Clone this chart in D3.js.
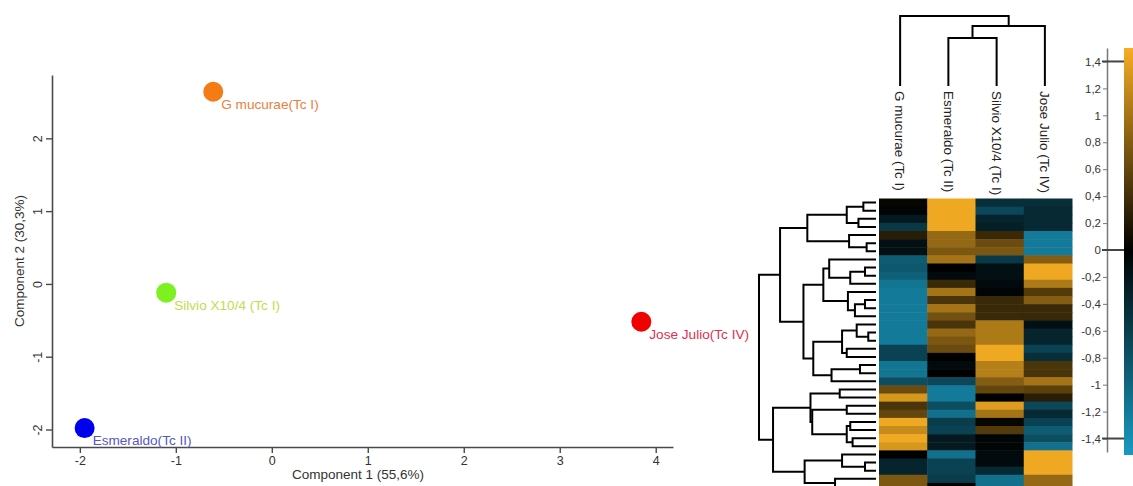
<!DOCTYPE html>
<html><head><meta charset="utf-8">
<script src="https://cdn.jsdelivr.net/npm/d3@7"></script>
<style>
body{margin:0;background:#fff;}
svg{display:block;font-family:"Liberation Sans",Arial,sans-serif;}
</style></head><body>
<svg id="chart" width="1133" height="486"></svg>
<script>
// ---------------- PCA data ----------------
const pcaSamples = ["G mucurae(Tc I)", "Silvio X10/4 (Tc I)", "Esmeraldo(Tc II)", "Jose Julio(Tc IV)"];
const pc1 = [-0.61, -1.10, -1.95, 3.85];
const pc2 = [2.64, -0.12, -1.98, -0.52];
const pcaXTicks = [-2, -1, 0, 1, 2, 3, 4];
const pcaYTicks = [-2, -1, 0, 1, 2];
const pcaXTitle = "Component 1 (55,6%)";
const pcaYTitle = "Component 2 (30,3%)";

// ---------------- Heatmap data ----------------
const heatColumns = ["G mucurae (Tc I)", "Esmeraldo (Tc II)", "Silvio X10/4 (Tc I)", "Jose Julio (Tc IV)"];
// column linkage: [childA, childB, height]  (leaves 0..3, clusters 4..)
const colMerges = [[1, 2, 0.686], [4, 3, 0.857], [0, 5, 1.0]];
// rows in dendrogram order: [G mucurae, Esmeraldo, Silvio, Jose Julio]
const heatRows = [
  [0.05, 1.45, -0.45, -0.45],
  [-0.05, 1.45, -0.70, -0.40],
  [-0.25, 1.45, -0.35, -0.40],
  [-0.55, 1.45, -0.30, -0.40],
  [0.25, 0.90, 0.35, -1.20],
  [-0.15, 0.90, 0.65, -1.20],
  [-0.15, 0.75, 0.75, -1.20],
  [-0.90, 1.00, -0.55, 0.80],
  [-0.85, 0.00, -0.15, 1.45],
  [-0.95, -0.10, -0.15, 1.45],
  [-1.15, 0.35, -0.10, 1.05],
  [-1.20, 1.00, -0.05, 0.50],
  [-1.20, 0.45, 0.35, 0.80],
  [-1.20, 1.00, 0.35, 0.35],
  [-1.20, 0.70, 0.35, 0.35],
  [-1.20, 0.45, 1.05, -0.15],
  [-1.20, 0.90, 1.05, -0.35],
  [-1.20, 0.75, 1.05, -0.35],
  [-0.65, 0.65, 1.45, -0.65],
  [-0.65, 0.00, 1.45, -0.45],
  [-1.15, -0.10, 1.10, 0.45],
  [-1.15, 0.00, 1.10, 0.45],
  [-0.75, -0.70, 0.80, 1.00],
  [0.65, -1.20, 0.60, 0.55],
  [1.30, -1.20, 0.00, 0.25],
  [0.45, -0.75, 1.35, -0.70],
  [0.60, -1.10, 1.00, -0.40],
  [1.45, -0.60, 0.05, -0.65],
  [1.20, -0.65, 0.50, -0.90],
  [1.45, -0.25, -0.05, -0.75],
  [1.30, -0.25, -0.05, -1.10],
  [0.00, -1.10, -0.10, 1.45],
  [-0.35, -0.65, -0.10, 1.45],
  [-0.35, -0.65, -0.40, 1.45],
  [0.75, -0.60, -1.10, 0.90],
  [0.75, 0.00, -1.10, 0.90]
];
// row linkage: [childA, childB, height]  (leaves 0..35, clusters 36..)
const rowMerges = [
  [0, 1, 0.108], [2, 3, 0.15], [36, 37, 0.25], [5, 6, 0.08], [4, 39, 0.23], [38, 40, 0.587],
  [8, 9, 0.094], [42, 10, 0.22], [7, 43, 0.40], [12, 13, 0.094], [45, 14, 0.18], [11, 46, 0.24],
  [44, 47, 0.45], [16, 17, 0.066], [15, 49, 0.165], [18, 19, 0.25], [50, 51, 0.29], [20, 21, 0.137],
  [53, 22, 0.38], [52, 54, 0.536], [48, 55, 0.62], [41, 56, 0.82],
  [23, 24, 0.31], [25, 26, 0.25], [27, 28, 0.22], [29, 30, 0.20], [60, 61, 0.25], [59, 62, 0.545],
  [58, 63, 0.56], [32, 33, 0.094], [31, 65, 0.29], [34, 35, 0.35], [66, 67, 0.61], [64, 68, 0.88],
  [57, 69, 1.0]
];
const colorTicks = [1.4, 1.2, 1, 0.8, 0.6, 0.4, 0.2, 0, -0.2, -0.4, -0.6, -0.8, -1, -1.2, -1.4];
const colorMarks = [1.4, 0, -1.4];

// ---------------- styles ----------------
const pointColors = ["#f57b16", "#7cf021", "#0000ee", "#f00000"];
const labelColors = ["#e9803c", "#c6da4e", "#5656c6", "#de3050"];
const axisColor = "#4a4a4a";
const textColor = "#333";
const FONT = "'Liberation Sans',Arial,sans-serif";

const svg = d3.select("#chart");
svg.append("rect").attr("width", 1133).attr("height", 486).attr("fill", "#fff");

// ================= PCA =================
const x = d3.scaleLinear().domain([-2.29, 4.18]).range([52, 673]);
const y = d3.scaleLinear().domain([-2.24, 2.87]).range([447, 75]);

const gx = svg.append("g").attr("transform", "translate(0,447)")
  .call(d3.axisBottom(x).tickValues(pcaXTicks).tickSize(6).tickSizeOuter(0).tickFormat(d => String(d)));
const gy = svg.append("g").attr("transform", "translate(52,0)")
  .call(d3.axisLeft(y).tickValues(pcaYTicks).tickSize(6).tickSizeOuter(0).tickFormat(d => String(d)));
[gx, gy].forEach(g => {
  g.select(".domain").attr("stroke", axisColor).attr("stroke-width", 1.6);
  g.selectAll(".tick line").attr("stroke", axisColor).attr("stroke-width", 1.4);
  g.selectAll(".tick text").attr("fill", textColor).attr("font-size", 12.5).attr("font-family", FONT);
});
gy.selectAll(".tick text").attr("x", null).attr("dy", null).attr("y", 0)
  .attr("text-anchor", "middle").attr("transform", "translate(-10,0) rotate(-90)");

svg.append("text").attr("x", 358).attr("y", 479).attr("text-anchor", "middle")
  .attr("font-size", 13.5).attr("fill", textColor).text(pcaXTitle);
svg.append("text").attr("transform", "translate(24,261) rotate(-90)").attr("text-anchor", "middle")
  .attr("font-size", 13.5).attr("fill", textColor).text(pcaYTitle);

const pts = svg.append("g");
pcaSamples.forEach((s, i) => {
  pts.append("circle").attr("cx", x(pc1[i])).attr("cy", y(pc2[i])).attr("r", 10).attr("fill", pointColors[i]);
  pts.append("text").attr("x", x(pc1[i]) + 8).attr("y", y(pc2[i]) + 17)
    .attr("font-size", 13.6).attr("fill", labelColors[i]).text(s);
});

// ================= Heatmap =================
const nRows = heatRows.length, nCols = heatColumns.length;
const xb = d3.scaleBand().domain(d3.range(nCols)).range([879, 1072]);
const rowH = 8.125;
const yb = d3.scaleBand().domain(d3.range(nRows)).range([198.5, 198.5 + nRows * rowH]);
const color = d3.scaleLinear().domain([-1.5, 0, 1.5]).range(["#1899bf", "#000000", "#f7ae22"]).clamp(true);

const hm = svg.append("g");
heatRows.forEach((row, r) => {
  row.forEach((v, c) => {
    hm.append("rect").attr("x", xb(c)).attr("y", yb(r))
      .attr("width", xb.bandwidth() + 0.5).attr("height", yb.bandwidth() + 0.5)
      .attr("fill", color(v));
  });
});

function linkage(merges, nLeaves, leafPos) {
  const pos = leafPos.slice(), hts = new Array(nLeaves).fill(0);
  merges.forEach(([a, b, h], k) => {
    const id = nLeaves + k;
    pos[id] = (pos[a] + pos[b]) / 2;
    hts[id] = h;
  });
  return { pos, hts };
}

// row dendrogram
const rowLeafY = d3.range(nRows).map(r => yb(r) + yb.bandwidth() / 2);
const rd = linkage(rowMerges, nRows, rowLeafY);
const hx = d3.scaleLinear().domain([0, 1]).range([876, 759]);
const rg = svg.append("g").attr("fill", "none").attr("stroke", "#000").attr("stroke-width", 2);
rowMerges.forEach(([a, b, h]) => {
  rg.append("path").attr("d",
    `M${hx(rd.hts[a])},${rd.pos[a]}H${hx(h)}V${rd.pos[b]}H${hx(rd.hts[b])}`);
});

// column dendrogram
const colLeafX = d3.range(nCols).map(c => xb(c) + xb.bandwidth() / 2 - 3);
const cd = linkage(colMerges, nCols, colLeafX);
const hy = d3.scaleLinear().domain([0, 1]).range([86, 16]);
const cg = svg.append("g").attr("fill", "none").attr("stroke", "#000").attr("stroke-width", 2);
colMerges.forEach(([a, b, h]) => {
  cg.append("path").attr("d",
    `M${cd.pos[a]},${hy(cd.hts[a])}V${hy(h)}H${cd.pos[b]}V${hy(cd.hts[b])}`);
});
heatColumns.forEach((name, c) => {
  svg.append("text").attr("transform", `translate(${colLeafX[c]},91) rotate(90)`)
    .attr("dy", "0.36em").attr("font-size", 13.4).attr("fill", "#222").text(name);
});

// ================= Colour bar =================
const cb = d3.scaleLinear().domain([1.5, -1.5]).range([48, 452]);
const defs = svg.append("defs");
const grad = defs.append("linearGradient").attr("id", "cbgrad")
  .attr("x1", 0).attr("y1", 0).attr("x2", 0).attr("y2", 1);
d3.range(0, 1.0001, 0.05).forEach(t => {
  grad.append("stop").attr("offset", t).attr("stop-color", color(cb.invert(48 + t * 407)));
});
svg.append("rect").attr("x", 1124).attr("y", 48).attr("width", 12).attr("height", 407)
  .attr("fill", "url(#cbgrad)");

const ga = svg.append("g").attr("transform", "translate(1107,0)")
  .call(d3.axisLeft(cb).tickValues(colorTicks).tickSize(4).tickPadding(2).tickSizeOuter(0)
    .tickFormat(d => String(d).replace(".", ",")));
ga.select(".domain").attr("stroke", "#777").attr("stroke-width", 1.5);
ga.selectAll(".tick line").attr("stroke", "#777");
ga.selectAll(".tick text").attr("fill", textColor).attr("font-size", 11.5).attr("font-family", FONT);
svg.append("g").selectAll("line").data(colorMarks).join("line")
  .attr("x1", 1102).attr("x2", 1124).attr("y1", d => cb(d)).attr("y2", d => cb(d))
  .attr("stroke", "#444").attr("stroke-width", 2);
</script>
</body></html>
